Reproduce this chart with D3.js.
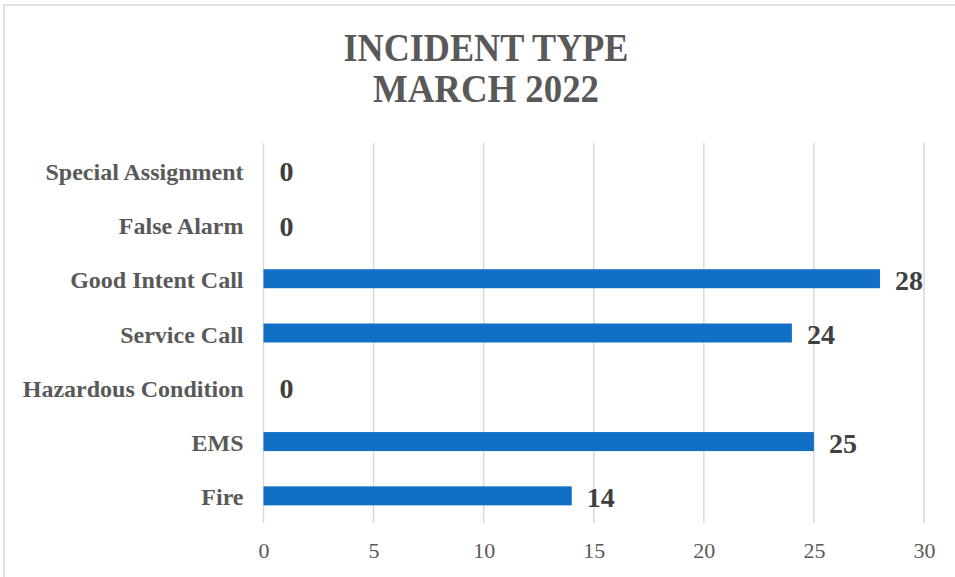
<!DOCTYPE html>
<html>
<head>
<meta charset="utf-8">
<script src="https://cdn.jsdelivr.net/npm/d3@7"></script>
<style>
  body { margin: 0; background: #fff; }
  svg { display: block; font-family: "Liberation Serif", "Times New Roman", serif; }
</style>
</head>
<body>
<div id="chart"></div>
<script>
// data, top to bottom as drawn
var categories = ["Special Assignment", "False Alarm", "Good Intent Call", "Service Call",
                  "Hazardous Condition", "EMS", "Fire"];
var counts = [0, 0, 28, 24, 0, 25, 14];
var xTicks = [0, 5, 10, 15, 20, 25, 30];
var titleLines = ["INCIDENT TYPE", "MARCH 2022"];
var titleWidths = [285, 226]; // title is drawn a bit condensed

var width = 955,
    height = 577;
var margin = {top: 143, right: 31, bottom: 54, left: 263.5};

var svg = d3.select("#chart").append("svg")
    .attr("width", width)
    .attr("height", height);

// chart frame
svg.append("rect")
    .attr("x", 4).attr("y", 5)
    .attr("width", width + 10).attr("height", height + 10)
    .attr("fill", "#fff")
    .attr("stroke", "#d9d9d9")
    .attr("stroke-width", 1.5);

var x = d3.scaleLinear()
    .domain([0, 30])
    .range([margin.left, width - margin.right]);

var y = d3.scaleBand()
    .domain(categories)
    .range([margin.top, height - margin.bottom])
    .paddingInner(0.65)
    .paddingOuter(0.325);

// title
svg.append("g")
    .selectAll("text")
    .data(titleLines)
    .enter().append("text")
    .attr("x", 486)
    .attr("y", function(d, i) { return 61 + i * 41; })
    .attr("text-anchor", "middle")
    .attr("fill", "#595959")
    .attr("textLength", function(d, i) { return titleWidths[i]; })
    .attr("lengthAdjust", "spacingAndGlyphs")
    .style("font-size", "39px")
    .style("font-weight", "bold")
    .text(function(d) { return d; });

// gridlines
svg.append("g")
    .selectAll("line")
    .data(xTicks)
    .enter().append("line")
    .attr("x1", function(d) { return x(d); })
    .attr("x2", function(d) { return x(d); })
    .attr("y1", margin.top)
    .attr("y2", height - margin.bottom)
    .attr("stroke", "#d9d9d9")
    .attr("stroke-width", 1.5);

// x axis labels
var xAxis = svg.append("g")
    .attr("transform", "translate(0," + (height - margin.bottom) + ")")
    .call(d3.axisBottom(x).tickValues(xTicks).tickSize(0).tickPadding(19));
xAxis.select(".domain").remove();
xAxis.selectAll("text")
    .attr("fill", "#595959")
    .style("font-family", "'Liberation Serif', 'Times New Roman', serif")
    .style("font-size", "22px");

// category labels
var yAxis = svg.append("g")
    .attr("transform", "translate(" + margin.left + ",0)")
    .call(d3.axisLeft(y).tickSize(0).tickPadding(20));
yAxis.select(".domain").remove();
yAxis.selectAll("text")
    .attr("fill", "#595959")
    .attr("dy", "0.4em")
    .style("font-family", "'Liberation Serif', 'Times New Roman', serif")
    .style("font-size", "24px")
    .style("font-weight", "bold");

// bars
svg.append("g")
    .selectAll("rect")
    .data(categories)
    .enter().append("rect")
    .attr("x", x(0))
    .attr("y", function(d) { return y(d); })
    .attr("width", function(d, i) { return x(counts[i]) - x(0); })
    .attr("height", y.bandwidth())
    .attr("fill", "#1170c6");

// value labels
svg.append("g")
    .selectAll("text")
    .data(categories)
    .enter().append("text")
    .attr("x", function(d, i) { return x(counts[i]) + (counts[i] == 0 ? 16 : 15); })
    .attr("y", function(d) { return y(d) + y.bandwidth() / 2; })
    .attr("dy", "0.4em")
    .attr("fill", "#404040")
    .style("font-size", "28px")
    .style("font-weight", "bold")
    .text(function(d, i) { return counts[i]; });
</script>
</body>
</html>
